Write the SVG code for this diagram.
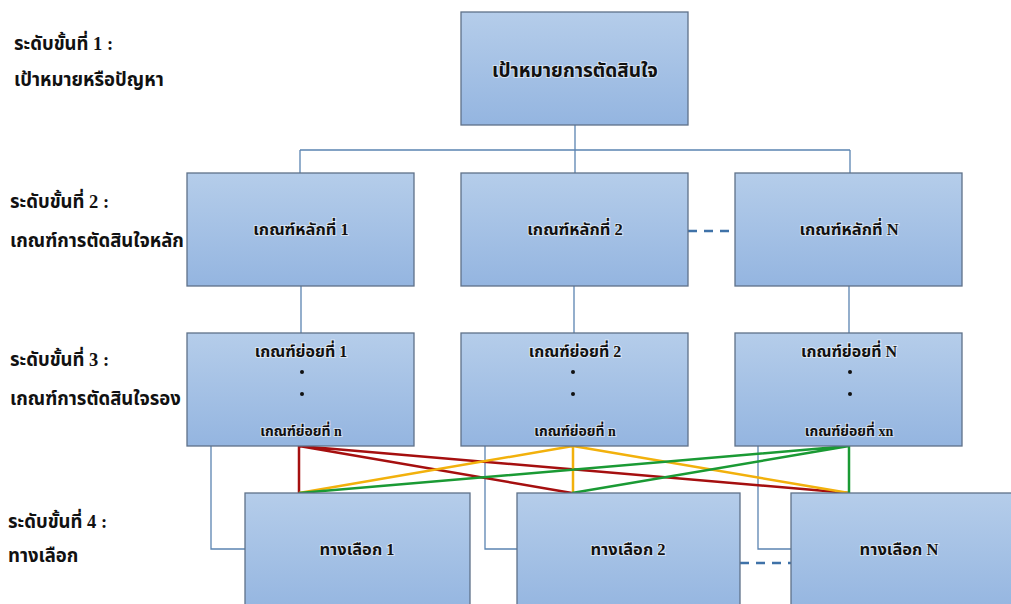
<svg xmlns="http://www.w3.org/2000/svg" width="1011" height="604" viewBox="0 0 1011 604">
<defs>
<linearGradient id="g" x1="0" y1="0" x2="0" y2="1">
<stop offset="0" stop-color="#b5cdea"/>
<stop offset="1" stop-color="#94b5e0"/>
</linearGradient>
</defs>
<style>
.box{fill:url(#g);stroke:#5f7189;stroke-width:1.3}
.t{font-family:"Liberation Serif","Noto Sans Thai","Noto Serif Thai",serif;font-weight:bold;fill:#111;text-anchor:middle;paint-order:stroke;stroke:#ffffff;stroke-opacity:0.55;stroke-width:2}
.lab{font-family:"Liberation Serif","Noto Sans Thai","Noto Serif Thai",serif;font-weight:bold;fill:#111;font-size:18.5px}
.c{fill:none;stroke:#5b84b1;stroke-width:1.3}
.d{fill:none;stroke:#3f72a8;stroke-width:2.5;stroke-dasharray:9,7}
.red{stroke:#a50f0f;stroke-width:2.5;fill:none}
.yel{stroke:#f2b10c;stroke-width:2.5;fill:none}
.grn{stroke:#1a9a34;stroke-width:2.5;fill:none}
.dot{fill:#111}
</style>
<rect width="1011" height="604" fill="#ffffff"/>
<g id="labels">
<text class="lab" x="14" y="50">ระดับขั้นที่ 1 :</text>
<text class="lab" x="14" y="86">เป้าหมายหรือปัญหา</text>
<text class="lab" x="10" y="208">ระดับขั้นที่ 2 :</text>
<text class="lab" x="10" y="247">เกณฑ์การตัดสินใจหลัก</text>
<text class="lab" x="10" y="366">ระดับขั้นที่ 3 :</text>
<text class="lab" x="10" y="405">เกณฑ์การตัดสินใจรอง</text>
<text class="lab" x="8" y="528">ระดับขั้นที่ 4 :</text>
<text class="lab" x="8" y="562">ทางเลือก</text>
</g>
<g id="connectors">
<path class="c" d="M575,125 V173 M300,150 H850 M300,150 V173 M850,150 V173"/>
<path class="c" d="M301,286 V333 M574,286 V333 M849,286 V333"/>
<path class="d" d="M688,231 H735"/>
<path class="c" d="M211,446 V549 H246 M485,446 V549 H517 M758,446 V549 H791"/>
<path class="d" d="M740,563 H791"/>
<path class="red" d="M299,446 V493 M299,446 L572,493 M299,446 L849,493"/>
<path class="yel" d="M573,446 L299,493 M573,446 V493 M573,446 L849,493"/>
<path class="grn" d="M849,446 L299,493 M849,446 L572,493 M849,446 V493"/>
</g>
<g id="n-goal">
<rect class="box" x="461" y="12" width="227" height="113"/>
<text class="t" x="575" y="77" font-size="19">เป้าหมายการตัดสินใจ</text>
</g>
<g id="n-main1">
<rect class="box" x="187" y="173" width="227" height="113"/>
<text class="t" x="301" y="235" font-size="16.5">เกณฑ์หลักที่ 1</text>
</g>
<g id="n-main2">
<rect class="box" x="461" y="173" width="227" height="113"/>
<text class="t" x="575" y="235" font-size="16.5">เกณฑ์หลักที่ 2</text>
</g>
<g id="n-mainN">
<rect class="box" x="735" y="173" width="227" height="113"/>
<text class="t" x="849" y="235" font-size="16.5">เกณฑ์หลักที่ N</text>
</g>
<g id="n-sub1">
<rect class="box" x="187" y="333" width="227" height="113"/>
<text class="t" x="301" y="357" font-size="16">เกณฑ์ย่อยที่ 1</text>
<circle class="dot" cx="302" cy="372" r="2"/>
<circle class="dot" cx="302" cy="394" r="2"/>
<text class="t" x="301" y="436" font-size="14">เกณฑ์ย่อยที่ n</text>
</g>
<g id="n-sub2">
<rect class="box" x="461" y="333" width="227" height="113"/>
<text class="t" x="575" y="357" font-size="16">เกณฑ์ย่อยที่ 2</text>
<circle class="dot" cx="573" cy="372" r="2"/>
<circle class="dot" cx="573" cy="394" r="2"/>
<text class="t" x="575" y="436" font-size="14">เกณฑ์ย่อยที่ n</text>
</g>
<g id="n-subN">
<rect class="box" x="735" y="333" width="227" height="113"/>
<text class="t" x="849" y="357" font-size="16">เกณฑ์ย่อยที่ N</text>
<circle class="dot" cx="850" cy="372" r="2"/>
<circle class="dot" cx="850" cy="394" r="2"/>
<text class="t" x="849" y="436" font-size="14">เกณฑ์ย่อยที่ xn</text>
</g>
<g id="n-alt1">
<rect class="box" x="245" y="493" width="225" height="120"/>
<text class="t" x="357" y="555" font-size="16.5">ทางเลือก 1</text>
</g>
<g id="n-alt2">
<rect class="box" x="517" y="493" width="223" height="120"/>
<text class="t" x="628" y="555" font-size="16.5">ทางเลือก 2</text>
</g>
<g id="n-altN">
<rect class="box" x="791" y="493" width="225" height="120"/>
<text class="t" x="899" y="555" font-size="16.5">ทางเลือก N</text>
</g>
</svg>
